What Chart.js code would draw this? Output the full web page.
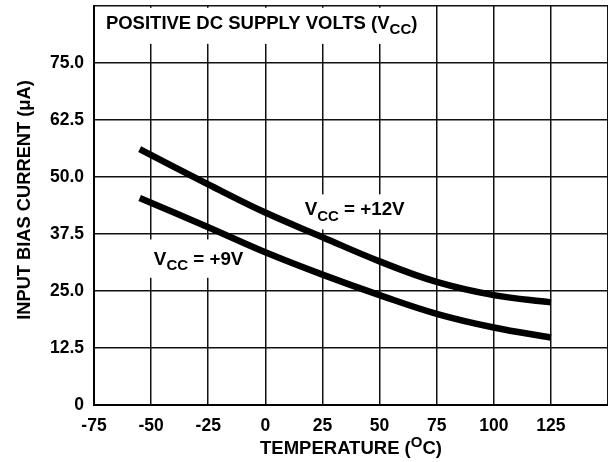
<!DOCTYPE html>
<html>
<head>
<meta charset="utf-8">
<script src="https://cdn.jsdelivr.net/npm/chart.js@4.4.0/dist/chart.umd.min.js"></script>
<style>
  html, body { margin: 0; padding: 0; background: #fff; }
  #wrap { width: 608px; height: 462px; }
</style>
</head>
<body>
<div id="wrap"><canvas id="biasChart" width="608" height="462"></canvas></div>
<script>
// temperature (C) and input bias current (uA)
const temps = [-55, -25, 0, 25, 50, 75, 100, 125]
const vcc12 = [56.1, 48.4, 42.2, 36.8, 31.5, 27.0, 24.1, 22.5]
const vcc9 = [45.4, 39.0, 33.5, 28.6, 24.1, 20.0, 17.0, 14.8]

const xTickLabels = ['-75', '-50', '-25', '0', '25', '50', '75', '100', '125', '']
const yTickLabels = ['0', '12.5', '25.0', '37.5', '50.0', '62.5', '75.0', '']

const FONT = '"Liberation Sans", Arial, sans-serif'

// text pieces: [text, 'sub' | 'sup' | undefined]
const titleParts = [['POSITIVE DC SUPPLY VOLTS (V'], ['CC', 'sub'], [')']]
const label12 = [['V'], ['CC', 'sub'], [' = +12V']]
const label9 = [['V'], ['CC', 'sub'], [' = +9V']]
const xTitleParts = [['TEMPERATURE ('], ['O', 'sup'], ['C)']]

function drawParts(ctx, parts, x, y, size, align) {
    const small = Math.round(size * 0.8)
    let total = 0
    parts.forEach(p => {
        ctx.font = 'bold ' + (p[1] ? small : size) + 'px ' + FONT
        total += ctx.measureText(p[0]).width
    })
    let cx = align === 'center' ? x - total / 2 : x
    ctx.textAlign = 'left'
    ctx.textBaseline = 'alphabetic'
    parts.forEach(p => {
        ctx.font = 'bold ' + (p[1] ? small : size) + 'px ' + FONT
        let dy = 0
        if (p[1] === 'sub') dy = size * 0.3
        if (p[1] === 'sup') dy = -size * 0.4
        ctx.fillText(p[0], cx, y + dy)
        cx += ctx.measureText(p[0]).width
    })
}

const labelsPlugin = {
    id: 'labels',
    beforeDatasetsDraw(chart) {
        const ctx = chart.ctx
        const xs = chart.scales.x, ys = chart.scales.y
        const box = (x1, x2, y1, y2) => {
            const l = xs.getPixelForValue(x1), r = xs.getPixelForValue(x2)
            const t = ys.getPixelForValue(y1), b = ys.getPixelForValue(y2)
            ctx.fillRect(l, t, r - l, b - t)
        }
        ctx.save()
        ctx.fillStyle = '#fff'
        box(-73.3, 71, 87.1, 79.2)
        box(14.6, 63, 46.2, 38.5)
        box(-51.4, -6.8, 36.3, 27.9)
        ctx.fillStyle = '#000'
        drawParts(ctx, titleParts, xs.getPixelForValue(-69.8), ys.getPixelForValue(82.5), 18.5)
        drawParts(ctx, label12, xs.getPixelForValue(17.2), ys.getPixelForValue(41.6), 18.8)
        drawParts(ctx, label9, xs.getPixelForValue(-48.8), ys.getPixelForValue(30.8), 18.8)
        ctx.restore()
    },
    afterDraw(chart) {
        const ctx = chart.ctx
        const area = chart.chartArea
        ctx.save()
        ctx.fillStyle = '#000'
        drawParts(ctx, xTitleParts, (area.left + area.right) / 2, 454, 18.5, 'center')
        ctx.translate(30, 200)
        ctx.rotate(-Math.PI / 2)
        drawParts(ctx, [['INPUT BIAS CURRENT (\u03bcA)']], 0, 0, 18.3, 'center')
        ctx.restore()
    }
}

const lineStyle = {
    borderColor: '#000',
    borderWidth: 6.5,
    pointRadius: 0,
    fill: false,
    borderCapStyle: 'butt',
    tension: 0.4
}

new Chart(document.getElementById('biasChart'), {
    type: 'line',
    data: {
        datasets: [
            Object.assign({ label: 'VCC = +12V', data: temps.map((t, i) => ({ x: t, y: vcc12[i] })) }, lineStyle),
            Object.assign({ label: 'VCC = +9V', data: temps.map((t, i) => ({ x: t, y: vcc9[i] })) }, lineStyle)
        ]
    },
    options: {
        responsive: false,
        animation: false,
        layout: { padding: { top: 6, right: 0, left: 0, bottom: 0 } },
        plugins: { legend: { display: false }, tooltip: { enabled: false } },
        scales: {
            x: {
                type: 'linear',
                min: -75,
                max: 150,
                afterFit(s) { s.height = 57; s.paddingLeft = 0; s.paddingRight = 0 },
                grid: { color: '#111', lineWidth: 1.5, drawTicks: false },
                border: { color: '#000', width: 2 },
                ticks: {
                    stepSize: 25,
                    padding: 11,
                    maxRotation: 0,
                    autoSkip: false,
                    color: '#000',
                    font: { family: FONT, size: 17.5, weight: 'bold' },
                    callback: (v, i) => xTickLabels[i]
                }
            },
            y: {
                min: 0,
                max: 87.5,
                afterFit(s) { s.width = 94; s.paddingTop = 0; s.paddingBottom = 0 },
                grid: { color: '#111', lineWidth: 1.5, drawTicks: false },
                border: { color: '#000', width: 2 },
                ticks: {
                    stepSize: 12.5,
                    padding: 10,
                    color: '#000',
                    font: { family: FONT, size: 17.5, weight: 'bold' },
                    callback: (v, i) => yTickLabels[i]
                }
            }
        }
    },
    plugins: [labelsPlugin]
});
</script>
</body>
</html>
